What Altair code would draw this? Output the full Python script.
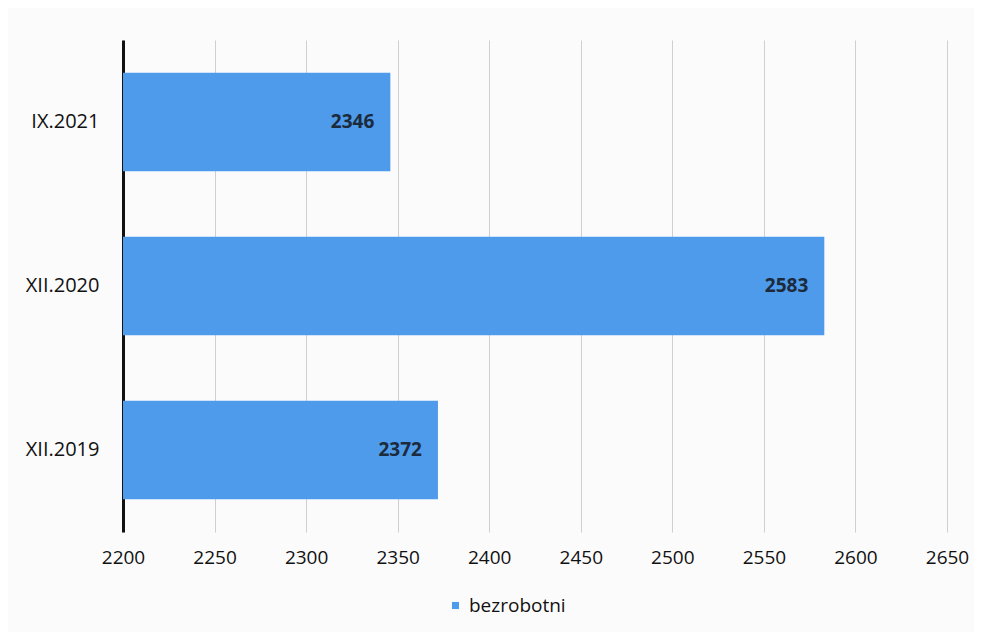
import altair as alt
import pandas as pd

periods = ["IX.2021", "XII.2020", "XII.2019"]
values = [2346, 2583, 2372]
series = ["bezrobotni", "bezrobotni", "bezrobotni"]
x_ticks = [2200, 2250, 2300, 2350, 2400, 2450, 2500, 2550, 2600, 2650]

df = pd.DataFrame({"period": periods, "value": values, "series": series})

FONT = "Open Sans"

base = alt.Chart(df).encode(
    y=alt.Y("period:N", sort=periods, title=None,
            scale=alt.Scale(paddingInner=0.4, paddingOuter=0.2),
            axis=alt.Axis(domain=True, domainColor="#111111", domainWidth=3,
                          ticks=False, grid=False, labelFontSize=20,
                          labelFont=FONT, labelColor="#111111", labelPadding=24)),
)

bars = base.mark_bar(color="#4d9bea", clip=True).encode(
    x=alt.X("value:Q", title=None,
            scale=alt.Scale(domain=[2200, 2650], nice=False, zero=False),
            axis=alt.Axis(values=x_ticks, format="d", domain=False, ticks=False,
                          grid=True, gridColor="#cfcfcf", gridWidth=1,
                          labelFontSize=19, labelFont=FONT, labelColor="#111111",
                          labelPadding=16, labelFlush=False)),
    color=alt.Color("series:N", title=None,
                    scale=alt.Scale(range=["#4d9bea"]),
                    legend=alt.Legend(orient="none", legendX=323, legendY=556,
                                      symbolType="square", symbolSize=50,
                                      labelFontSize=19, labelFont=FONT,
                                      labelColor="#111111", direction="horizontal")),
)

labels = base.mark_text(align="right", dx=-16, fontWeight="bold", fontSize=19,
                        font=FONT, color="#1c2a3c").encode(
    x=alt.X("value:Q"),
    text=alt.Text("value:Q", format="d"),
)

chart = alt.layer(bars, labels).properties(
    width=824, height=492,
    background="#fcfbfc",
    padding={"left": 115, "top": 32, "right": 27, "bottom": 100},
    autosize=alt.AutoSizeParams(type="none"),
).configure_view(stroke=None)

chart.save("out.html", embed_options={"renderer": "svg", "actions": False})
